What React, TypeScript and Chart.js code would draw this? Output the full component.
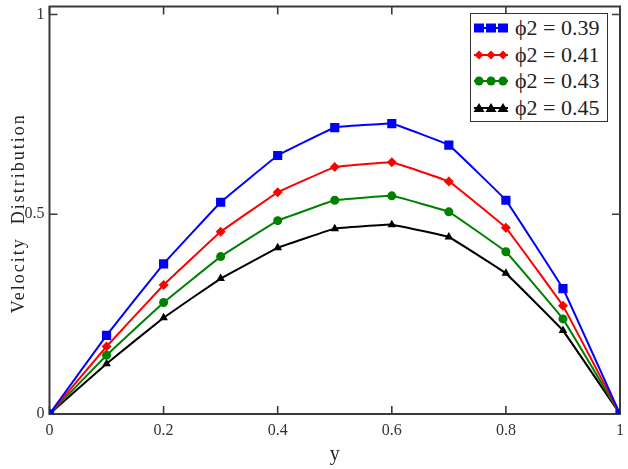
import React, { useEffect, useRef } from "react";
import { Chart, registerables } from "chart.js";

Chart.register(...registerables);

const yPositions = [0, 0.1, 0.2, 0.3, 0.4, 0.5, 0.6, 0.7, 0.8, 0.9, 1.0];
const phi039 = [0, 0.197, 0.376, 0.53, 0.647, 0.717, 0.727, 0.673, 0.535, 0.314, 0];
const phi041 = [0, 0.169, 0.323, 0.456, 0.555, 0.618, 0.63, 0.582, 0.466, 0.271, 0];
const phi043 = [0, 0.147, 0.279, 0.394, 0.484, 0.535, 0.546, 0.506, 0.406, 0.238, 0];
const phi045 = [0, 0.126, 0.241, 0.339, 0.416, 0.464, 0.474, 0.443, 0.352, 0.209, 0];
const seriesLabels = ["\u03D52 = 0.39", "\u03D52 = 0.41", "\u03D52 = 0.43", "\u03D52 = 0.45"];
const xTickValues = [0, 0.2, 0.4, 0.6, 0.8, 1];
const yTickValues = [0, 0.5, 1];
const xTitle = "y";
const yTitle = "Velocity  Distribution";

const colors = ["#0000ff", "#ff0000", "#008000", "#000000"];
const pointStyles = ["rect", "rectRot", "circle", "triangle"] as const;
const pointRadii = [6.5, 5, 4.5, 5];

const serif = "'Liberation Serif', 'Times New Roman', serif";

const framePlugin = {
  id: "frameTicks",
  beforeDatasetsDraw(chart: any) {
    const { ctx, chartArea } = chart;
    const { left, right, top, bottom } = chartArea;
    const xs = chart.scales.x;
    const ys = chart.scales.y;
    const len = 8;
    ctx.save();
    ctx.strokeStyle = "#3a3a3a";
    ctx.lineWidth = 1.6;
    ctx.beginPath();
    xs.ticks.forEach((t: any) => {
      const px = xs.getPixelForValue(t.value);
      ctx.moveTo(px, bottom);
      ctx.lineTo(px, bottom - len);
      ctx.moveTo(px, top);
      ctx.lineTo(px, top + len);
    });
    ys.ticks.forEach((t: any) => {
      const py = ys.getPixelForValue(t.value);
      ctx.moveTo(left, py);
      ctx.lineTo(left + len, py);
      ctx.moveTo(right, py);
      ctx.lineTo(right - len, py);
    });
    ctx.stroke();
    ctx.lineWidth = 2;
    ctx.strokeRect(left, top, right - left, bottom - top);
    ctx.restore();
  },
  afterDraw(chart: any) {
    const { ctx, chartArea } = chart;
    const cy = (chartArea.top + chartArea.bottom) / 2 + 3;
    ctx.save();
    ctx.translate(19, cy);
    ctx.rotate(-Math.PI / 2);
    ctx.font = `18px ${serif}`;
    ctx.fillStyle = "#222";
    (ctx as any).letterSpacing = "2px";
    ctx.textAlign = "center";
    ctx.textBaseline = "middle";
    ctx.fillText(yTitle, 0, 0);
    ctx.restore();
  },
};

function LegendMarker({ idx }: { idx: number }) {
  const c = colors[idx];
  const xs = [6, 18, 30];
  const cy = 7;
  const marks = xs.map((x, i) => {
    if (idx === 0) return <rect key={i} x={x - 5} y={cy - 4.5} width={10} height={9} fill={c} />;
    if (idx === 1)
      return <polygon key={i} points={`${x},${cy - 4.5} ${x + 4.5},${cy} ${x},${cy + 4.5} ${x - 4.5},${cy}`} fill={c} />;
    if (idx === 2) return <circle key={i} cx={x} cy={cy} r={4.5} fill={c} />;
    return <polygon key={i} points={`${x},${cy - 5} ${x + 5.5},${cy + 4} ${x - 5.5},${cy + 4}`} fill={c} />;
  });
  return (
    <svg width={36} height={14} style={{ display: "block" }}>
      <line x1={1} y1={cy} x2={35} y2={cy} stroke={c} strokeWidth={2} />
      {marks}
    </svg>
  );
}

export default function App() {
  const canvasRef = useRef<HTMLCanvasElement | null>(null);

  useEffect(() => {
    if (!canvasRef.current) return;
    const allSeries = [phi039, phi041, phi043, phi045];
    const chart = new Chart(canvasRef.current, {
      type: "line",
      data: {
        datasets: allSeries.map((s, i) => ({
          label: seriesLabels[i],
          data: yPositions.map((x, j) => ({ x, y: s[j] })),
          borderColor: colors[i],
          backgroundColor: colors[i],
          borderWidth: 2,
          pointStyle: pointStyles[i],
          pointRadius: pointRadii[i],
          pointBorderWidth: 0,
          tension: 0.05,
          fill: false,
        })),
      },
      options: {
        responsive: false,
        animation: false,
        layout: { padding: { top: 3, right: 8, left: 0, bottom: 0 } },
        plugins: {
          legend: { display: false },
          tooltip: { enabled: false },
        },
        scales: {
          x: {
            type: "linear",
            min: 0,
            max: 1,
            afterBuildTicks: (scale: any) => {
              scale.ticks = xTickValues.map((v) => ({ value: v }));
            },
            afterFit: (scale: any) => {
              scale.height = 55;
              scale.paddingLeft = 0;
              scale.paddingRight = 0;
            },
            ticks: {
              color: "#333",
              font: { family: serif, size: 16 },
              padding: 7,
              maxRotation: 0,
              callback: (v: any) => String(v),
            },
            grid: { display: false, drawTicks: false },
            border: { display: false },
            title: {
              display: true,
              text: xTitle,
              color: "#222",
              font: { family: serif, size: 20 },
              padding: { top: 0, bottom: 2 },
            },
          },
          y: {
            type: "linear",
            min: 0,
            max: 1.02,
            afterBuildTicks: (scale: any) => {
              scale.ticks = yTickValues.map((v) => ({ value: v }));
            },
            afterFit: (scale: any) => {
              scale.width = 49.5;
              scale.paddingTop = 0;
              scale.paddingBottom = 0;
            },
            ticks: {
              color: "#333",
              font: { family: serif, size: 16 },
              padding: 5,
              callback: (v: any) => String(v),
            },
            grid: { display: false, drawTicks: false },
            border: { display: false },
            title: { display: false },
          },
        },
      },
      plugins: [framePlugin],
    } as any);
    return () => chart.destroy();
  }, []);

  return (
    <div style={{ position: "absolute", left: 0, top: 0, width: 628, height: 469, background: "#fff" }}>
      <canvas ref={canvasRef} width={628} height={469} style={{ display: "block" }} />
      <div
        style={{
          position: "absolute",
          left: 470,
          top: 13,
          width: 136,
          height: 107,
          border: "1.5px solid #333",
          background: "#fff",
          fontFamily: serif,
          fontSize: 22,
          color: "#222",
          boxSizing: "content-box",
        }}
      >
        {seriesLabels.map((lab, i) => (
          <div
            key={i}
            style={{
              position: "absolute",
              left: 2,
              top: 1 + i * 26.7,
              height: 26,
              display: "flex",
              alignItems: "center",
              whiteSpace: "nowrap",
            }}
          >
            <LegendMarker idx={i} />
            <span style={{ marginLeft: 6, lineHeight: "26px" }}>{lab}</span>
          </div>
        ))}
      </div>
    </div>
  );
}
